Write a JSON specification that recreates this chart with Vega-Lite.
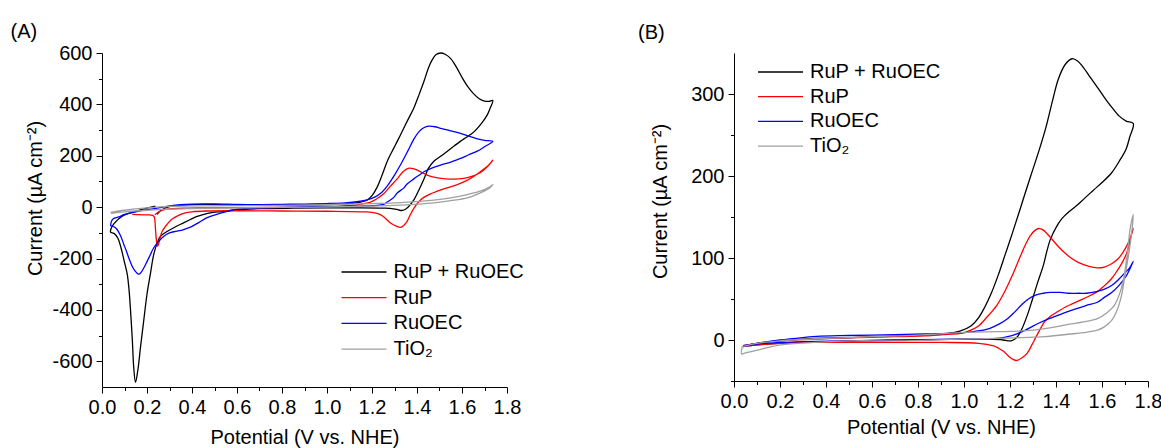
{
  "$schema": "https://vega.github.io/schema/vega-lite/v6.json",
  "background": "white",
  "padding": {"left": 10, "top": 22, "right": 2, "bottom": 2},
  "bounds": "flush",
  "spacing": 227,
  "config": {
    "font": "Liberation Sans",
    "view": {"stroke": null},
    "axis": {
      "labelFont": "Liberation Sans", "labelFontSize": 20, "labelColor": "#000000",
      "titleFont": "Liberation Sans", "titleFontSize": 20, "titleFontWeight": "normal", "titleColor": "#000000",
      "domainColor": "#000000", "tickColor": "#000000", "domainWidth": 1, "tickWidth": 1,
      "grid": false, "labelPadding": 4, "labelFlush": false, "labelOverlap": false
    },
    "legend": {
      "labelFont": "Liberation Sans", "labelFontSize": 20, "labelColor": "#000000",
      "symbolType": "stroke", "symbolSize": 2025, "symbolStrokeWidth": 1.3,
      "labelOffset": 6, "clipHeight": 20, "padding": 0, "labelLimit": 300
    },
    "title": {"font": "Liberation Sans", "fontSize": 20, "fontWeight": "normal", "color": "#000000", "anchor": "start", "frame": "group"}
  },
  "resolve": {"legend": {"color": "independent"}},
  "datasets": {
    "A": [
      {"s":"RuP + RuOEC","v":0.245,"c":-28},{"s":"RuP + RuOEC","v":0.255,"c":-18},{"s":"RuP + RuOEC","v":0.27,"c":-8},{"s":"RuP + RuOEC","v":0.3,"c":2},{"s":"RuP + RuOEC","v":0.34,"c":6},{"s":"RuP + RuOEC","v":0.4,"c":10},{"s":"RuP + RuOEC","v":0.46,"c":11},{"s":"RuP + RuOEC","v":0.55,"c":9},{"s":"RuP + RuOEC","v":0.7,"c":7},{"s":"RuP + RuOEC","v":0.85,"c":8},{"s":"RuP + RuOEC","v":1.0,"c":10},{"s":"RuP + RuOEC","v":1.08,"c":13},{"s":"RuP + RuOEC","v":1.14,"c":18},{"s":"RuP + RuOEC","v":1.179,"c":28},{"s":"RuP + RuOEC","v":1.2,"c":45},{"s":"RuP + RuOEC","v":1.223,"c":78},{"s":"RuP + RuOEC","v":1.245,"c":125},{"s":"RuP + RuOEC","v":1.268,"c":179},{"s":"RuP + RuOEC","v":1.3,"c":235},{"s":"RuP + RuOEC","v":1.327,"c":282},{"s":"RuP + RuOEC","v":1.356,"c":334},{"s":"RuP + RuOEC","v":1.386,"c":386},{"s":"RuP + RuOEC","v":1.41,"c":440},{"s":"RuP + RuOEC","v":1.431,"c":490},{"s":"RuP + RuOEC","v":1.45,"c":540},{"s":"RuP + RuOEC","v":1.468,"c":574},{"s":"RuP + RuOEC","v":1.485,"c":594},{"s":"RuP + RuOEC","v":1.505,"c":600},{"s":"RuP + RuOEC","v":1.525,"c":595},{"s":"RuP + RuOEC","v":1.55,"c":578},{"s":"RuP + RuOEC","v":1.575,"c":545},{"s":"RuP + RuOEC","v":1.6,"c":505},{"s":"RuP + RuOEC","v":1.625,"c":470},{"s":"RuP + RuOEC","v":1.65,"c":443},{"s":"RuP + RuOEC","v":1.675,"c":423},{"s":"RuP + RuOEC","v":1.7,"c":413},{"s":"RuP + RuOEC","v":1.72,"c":412},{"s":"RuP + RuOEC","v":1.737,"c":415},
      {"s":"RuP + RuOEC","v":1.725,"c":385},{"s":"RuP + RuOEC","v":1.713,"c":360},{"s":"RuP + RuOEC","v":1.69,"c":330},{"s":"RuP + RuOEC","v":1.653,"c":293},{"s":"RuP + RuOEC","v":1.62,"c":272},{"s":"RuP + RuOEC","v":1.594,"c":257},{"s":"RuP + RuOEC","v":1.565,"c":238},{"s":"RuP + RuOEC","v":1.535,"c":218},{"s":"RuP + RuOEC","v":1.505,"c":198},{"s":"RuP + RuOEC","v":1.475,"c":179},{"s":"RuP + RuOEC","v":1.45,"c":150},{"s":"RuP + RuOEC","v":1.431,"c":110},{"s":"RuP + RuOEC","v":1.41,"c":70},{"s":"RuP + RuOEC","v":1.386,"c":28},{"s":"RuP + RuOEC","v":1.36,"c":0},{"s":"RuP + RuOEC","v":1.342,"c":-11},{"s":"RuP + RuOEC","v":1.327,"c":-13},{"s":"RuP + RuOEC","v":1.31,"c":-9},{"s":"RuP + RuOEC","v":1.28,"c":-5},{"s":"RuP + RuOEC","v":1.25,"c":-4},{"s":"RuP + RuOEC","v":1.15,"c":-3},{"s":"RuP + RuOEC","v":1.0,"c":-3},{"s":"RuP + RuOEC","v":0.85,"c":-4},{"s":"RuP + RuOEC","v":0.7,"c":-6},{"s":"RuP + RuOEC","v":0.6,"c":-10},{"s":"RuP + RuOEC","v":0.53,"c":-17},{"s":"RuP + RuOEC","v":0.47,"c":-24},{"s":"RuP + RuOEC","v":0.42,"c":-37},{"s":"RuP + RuOEC","v":0.393,"c":-48},{"s":"RuP + RuOEC","v":0.36,"c":-62},{"s":"RuP + RuOEC","v":0.319,"c":-80},{"s":"RuP + RuOEC","v":0.285,"c":-97},{"s":"RuP + RuOEC","v":0.26,"c":-113},{"s":"RuP + RuOEC","v":0.245,"c":-140},{"s":"RuP + RuOEC","v":0.23,"c":-184},{"s":"RuP + RuOEC","v":0.215,"c":-260},{"s":"RuP + RuOEC","v":0.2,"c":-339},{"s":"RuP + RuOEC","v":0.185,"c":-445},{"s":"RuP + RuOEC","v":0.171,"c":-546},{"s":"RuP + RuOEC","v":0.16,"c":-630},{"s":"RuP + RuOEC","v":0.149,"c":-682},{"s":"RuP + RuOEC","v":0.141,"c":-624},{"s":"RuP + RuOEC","v":0.135,"c":-520},{"s":"RuP + RuOEC","v":0.127,"c":-404},{"s":"RuP + RuOEC","v":0.12,"c":-320},{"s":"RuP + RuOEC","v":0.112,"c":-260},{"s":"RuP + RuOEC","v":0.1,"c":-215},{"s":"RuP + RuOEC","v":0.085,"c":-160},{"s":"RuP + RuOEC","v":0.07,"c":-120},{"s":"RuP + RuOEC","v":0.053,"c":-102},{"s":"RuP + RuOEC","v":0.038,"c":-97},
      {"s":"RuP + RuOEC","v":0.042,"c":-80},{"s":"RuP + RuOEC","v":0.05,"c":-68},{"s":"RuP + RuOEC","v":0.06,"c":-58},{"s":"RuP + RuOEC","v":0.075,"c":-45},{"s":"RuP + RuOEC","v":0.09,"c":-35},{"s":"RuP + RuOEC","v":0.12,"c":-24},{"s":"RuP + RuOEC","v":0.149,"c":-16},{"s":"RuP + RuOEC","v":0.19,"c":-6},{"s":"RuP + RuOEC","v":0.238,"c":4},
      {"s":"RuP","v":0.235,"c":-30},{"s":"RuP","v":0.25,"c":-20},{"s":"RuP","v":0.27,"c":-12},{"s":"RuP","v":0.3,"c":-7},{"s":"RuP","v":0.37,"c":-4},{"s":"RuP","v":0.46,"c":-3},{"s":"RuP","v":0.6,"c":-2},{"s":"RuP","v":0.8,"c":-1},{"s":"RuP","v":1.0,"c":1},{"s":"RuP","v":1.1,"c":6},{"s":"RuP","v":1.164,"c":14},{"s":"RuP","v":1.193,"c":20},{"s":"RuP","v":1.22,"c":32},{"s":"RuP","v":1.252,"c":52},{"s":"RuP","v":1.28,"c":80},{"s":"RuP","v":1.312,"c":110},{"s":"RuP","v":1.34,"c":140},{"s":"RuP","v":1.365,"c":152},{"s":"RuP","v":1.39,"c":148},{"s":"RuP","v":1.42,"c":136},{"s":"RuP","v":1.445,"c":125},{"s":"RuP","v":1.48,"c":116},{"s":"RuP","v":1.519,"c":111},{"s":"RuP","v":1.56,"c":109},{"s":"RuP","v":1.608,"c":112},{"s":"RuP","v":1.65,"c":122},{"s":"RuP","v":1.682,"c":135},{"s":"RuP","v":1.71,"c":155},{"s":"RuP","v":1.737,"c":183},
      {"s":"RuP","v":1.72,"c":165},{"s":"RuP","v":1.7,"c":150},{"s":"RuP","v":1.665,"c":127},{"s":"RuP","v":1.62,"c":103},{"s":"RuP","v":1.579,"c":88},{"s":"RuP","v":1.53,"c":74},{"s":"RuP","v":1.49,"c":62},{"s":"RuP","v":1.46,"c":52},{"s":"RuP","v":1.43,"c":38},{"s":"RuP","v":1.405,"c":18},{"s":"RuP","v":1.386,"c":-5},{"s":"RuP","v":1.37,"c":-30},{"s":"RuP","v":1.356,"c":-55},{"s":"RuP","v":1.34,"c":-72},{"s":"RuP","v":1.327,"c":-79},{"s":"RuP","v":1.31,"c":-75},{"s":"RuP","v":1.282,"c":-62},{"s":"RuP","v":1.26,"c":-44},{"s":"RuP","v":1.237,"c":-29},{"s":"RuP","v":1.2,"c":-20},{"s":"RuP","v":1.164,"c":-18},{"s":"RuP","v":1.0,"c":-16},{"s":"RuP","v":0.8,"c":-15},{"s":"RuP","v":0.6,"c":-14},{"s":"RuP","v":0.46,"c":-15},{"s":"RuP","v":0.4,"c":-18},{"s":"RuP","v":0.37,"c":-22},{"s":"RuP","v":0.34,"c":-32},{"s":"RuP","v":0.312,"c":-46},{"s":"RuP","v":0.29,"c":-66},{"s":"RuP","v":0.267,"c":-95},{"s":"RuP","v":0.255,"c":-132},{"s":"RuP","v":0.247,"c":-152},{"s":"RuP","v":0.242,"c":-130},{"s":"RuP","v":0.238,"c":-90},{"s":"RuP","v":0.235,"c":-50},{"s":"RuP","v":0.232,"c":-38},{"s":"RuP","v":0.225,"c":-32},{"s":"RuP","v":0.2,"c":-30},{"s":"RuP","v":0.134,"c":-28},
      {"s":"RuOEC","v":0.038,"c":-74},{"s":"RuOEC","v":0.042,"c":-55},{"s":"RuOEC","v":0.05,"c":-45},{"s":"RuOEC","v":0.075,"c":-38},{"s":"RuOEC","v":0.1,"c":-28},{"s":"RuOEC","v":0.15,"c":-18},{"s":"RuOEC","v":0.2,"c":-10},{"s":"RuOEC","v":0.25,"c":-3},{"s":"RuOEC","v":0.3,"c":5},{"s":"RuOEC","v":0.35,"c":10},{"s":"RuOEC","v":0.4,"c":12},{"s":"RuOEC","v":0.5,"c":13},{"s":"RuOEC","v":0.6,"c":11},{"s":"RuOEC","v":0.7,"c":10},{"s":"RuOEC","v":0.8,"c":11},{"s":"RuOEC","v":0.9,"c":12},{"s":"RuOEC","v":1.0,"c":14},{"s":"RuOEC","v":1.08,"c":17},{"s":"RuOEC","v":1.14,"c":22},{"s":"RuOEC","v":1.178,"c":28},{"s":"RuOEC","v":1.21,"c":38},{"s":"RuOEC","v":1.24,"c":55},{"s":"RuOEC","v":1.27,"c":85},{"s":"RuOEC","v":1.3,"c":125},{"s":"RuOEC","v":1.33,"c":170},{"s":"RuOEC","v":1.36,"c":220},{"s":"RuOEC","v":1.386,"c":265},{"s":"RuOEC","v":1.41,"c":295},{"s":"RuOEC","v":1.43,"c":309},{"s":"RuOEC","v":1.453,"c":315},{"s":"RuOEC","v":1.48,"c":313},{"s":"RuOEC","v":1.505,"c":307},{"s":"RuOEC","v":1.55,"c":297},{"s":"RuOEC","v":1.594,"c":287},{"s":"RuOEC","v":1.63,"c":276},{"s":"RuOEC","v":1.668,"c":266},{"s":"RuOEC","v":1.7,"c":260},{"s":"RuOEC","v":1.737,"c":256},
      {"s":"RuOEC","v":1.7,"c":235},{"s":"RuOEC","v":1.668,"c":218},{"s":"RuOEC","v":1.63,"c":204},{"s":"RuOEC","v":1.594,"c":190},{"s":"RuOEC","v":1.55,"c":175},{"s":"RuOEC","v":1.505,"c":164},{"s":"RuOEC","v":1.46,"c":150},{"s":"RuOEC","v":1.431,"c":138},{"s":"RuOEC","v":1.41,"c":125},{"s":"RuOEC","v":1.386,"c":110},{"s":"RuOEC","v":1.356,"c":90},{"s":"RuOEC","v":1.342,"c":75},{"s":"RuOEC","v":1.312,"c":55},{"s":"RuOEC","v":1.297,"c":38},{"s":"RuOEC","v":1.268,"c":20},{"s":"RuOEC","v":1.253,"c":12},{"s":"RuOEC","v":1.223,"c":7},{"s":"RuOEC","v":1.179,"c":5},{"s":"RuOEC","v":1.1,"c":4},{"s":"RuOEC","v":1.0,"c":3},{"s":"RuOEC","v":0.9,"c":1},{"s":"RuOEC","v":0.8,"c":-1},{"s":"RuOEC","v":0.7,"c":-3},{"s":"RuOEC","v":0.6,"c":-8},{"s":"RuOEC","v":0.571,"c":-14},{"s":"RuOEC","v":0.52,"c":-25},{"s":"RuOEC","v":0.467,"c":-41},{"s":"RuOEC","v":0.43,"c":-60},{"s":"RuOEC","v":0.393,"c":-78},{"s":"RuOEC","v":0.36,"c":-88},{"s":"RuOEC","v":0.334,"c":-93},{"s":"RuOEC","v":0.3,"c":-100},{"s":"RuOEC","v":0.275,"c":-113},{"s":"RuOEC","v":0.25,"c":-135},{"s":"RuOEC","v":0.23,"c":-158},{"s":"RuOEC","v":0.215,"c":-185},{"s":"RuOEC","v":0.201,"c":-210},{"s":"RuOEC","v":0.185,"c":-238},{"s":"RuOEC","v":0.172,"c":-256},{"s":"RuOEC","v":0.164,"c":-261},{"s":"RuOEC","v":0.155,"c":-256},{"s":"RuOEC","v":0.145,"c":-246},{"s":"RuOEC","v":0.134,"c":-230},{"s":"RuOEC","v":0.12,"c":-200},{"s":"RuOEC","v":0.108,"c":-170},{"s":"RuOEC","v":0.097,"c":-145},{"s":"RuOEC","v":0.082,"c":-110},{"s":"RuOEC","v":0.067,"c":-87},{"s":"RuOEC","v":0.055,"c":-77},{"s":"RuOEC","v":0.045,"c":-74},{"s":"RuOEC","v":0.039,"c":-74},
      {"s":"TiO₂","v":0.038,"c":-20},{"s":"TiO₂","v":0.1,"c":-12},{"s":"TiO₂","v":0.2,"c":-3},{"s":"TiO₂","v":0.3,"c":3},{"s":"TiO₂","v":0.5,"c":5},{"s":"TiO₂","v":0.8,"c":7},{"s":"TiO₂","v":1.0,"c":10},{"s":"TiO₂","v":1.2,"c":14},{"s":"TiO₂","v":1.327,"c":18},{"s":"TiO₂","v":1.475,"c":27},{"s":"TiO₂","v":1.55,"c":36},{"s":"TiO₂","v":1.624,"c":49},{"s":"TiO₂","v":1.68,"c":62},{"s":"TiO₂","v":1.72,"c":77},{"s":"TiO₂","v":1.737,"c":88},{"s":"TiO₂","v":1.72,"c":73},{"s":"TiO₂","v":1.68,"c":55},{"s":"TiO₂","v":1.624,"c":36},{"s":"TiO₂","v":1.55,"c":25},{"s":"TiO₂","v":1.475,"c":17},{"s":"TiO₂","v":1.327,"c":8},{"s":"TiO₂","v":1.2,"c":4},{"s":"TiO₂","v":1.0,"c":1},{"s":"TiO₂","v":0.8,"c":-1},{"s":"TiO₂","v":0.5,"c":-4},{"s":"TiO₂","v":0.3,"c":-8},{"s":"TiO₂","v":0.2,"c":-12},{"s":"TiO₂","v":0.1,"c":-18},{"s":"TiO₂","v":0.04,"c":-24}
    ],
    "B": [
      {"s":"RuP + RuOEC","v":0.04,"c":-7},{"s":"RuP + RuOEC","v":0.1,"c":-4},{"s":"RuP + RuOEC","v":0.2,"c":-1},{"s":"RuP + RuOEC","v":0.35,"c":2},{"s":"RuP + RuOEC","v":0.516,"c":3},{"s":"RuP + RuOEC","v":0.7,"c":5},{"s":"RuP + RuOEC","v":0.829,"c":6},{"s":"RuP + RuOEC","v":0.9,"c":7},{"s":"RuP + RuOEC","v":0.95,"c":9},{"s":"RuP + RuOEC","v":0.985,"c":11},{"s":"RuP + RuOEC","v":1.03,"c":17},{"s":"RuP + RuOEC","v":1.063,"c":27},{"s":"RuP + RuOEC","v":1.09,"c":40},{"s":"RuP + RuOEC","v":1.12,"c":58},{"s":"RuP + RuOEC","v":1.15,"c":80},{"s":"RuP + RuOEC","v":1.18,"c":105},{"s":"RuP + RuOEC","v":1.21,"c":130},{"s":"RuP + RuOEC","v":1.25,"c":165},{"s":"RuP + RuOEC","v":1.29,"c":200},{"s":"RuP + RuOEC","v":1.325,"c":230},{"s":"RuP + RuOEC","v":1.355,"c":258},{"s":"RuP + RuOEC","v":1.385,"c":292},{"s":"RuP + RuOEC","v":1.41,"c":318},{"s":"RuP + RuOEC","v":1.44,"c":336},{"s":"RuP + RuOEC","v":1.47,"c":343},{"s":"RuP + RuOEC","v":1.495,"c":340},{"s":"RuP + RuOEC","v":1.517,"c":333},{"s":"RuP + RuOEC","v":1.55,"c":320},{"s":"RuP + RuOEC","v":1.58,"c":308},{"s":"RuP + RuOEC","v":1.61,"c":296},{"s":"RuP + RuOEC","v":1.642,"c":284},{"s":"RuP + RuOEC","v":1.675,"c":273},{"s":"RuP + RuOEC","v":1.705,"c":267},{"s":"RuP + RuOEC","v":1.736,"c":264},
      {"s":"RuP + RuOEC","v":1.72,"c":247},{"s":"RuP + RuOEC","v":1.705,"c":233},{"s":"RuP + RuOEC","v":1.675,"c":218},{"s":"RuP + RuOEC","v":1.642,"c":204},{"s":"RuP + RuOEC","v":1.6,"c":192},{"s":"RuP + RuOEC","v":1.564,"c":183},{"s":"RuP + RuOEC","v":1.525,"c":173},{"s":"RuP + RuOEC","v":1.486,"c":163},{"s":"RuP + RuOEC","v":1.455,"c":156},{"s":"RuP + RuOEC","v":1.423,"c":147},{"s":"RuP + RuOEC","v":1.4,"c":137},{"s":"RuP + RuOEC","v":1.376,"c":123},{"s":"RuP + RuOEC","v":1.36,"c":108},{"s":"RuP + RuOEC","v":1.345,"c":91},{"s":"RuP + RuOEC","v":1.32,"c":70},{"s":"RuP + RuOEC","v":1.298,"c":50},{"s":"RuP + RuOEC","v":1.275,"c":30},{"s":"RuP + RuOEC","v":1.251,"c":13},{"s":"RuP + RuOEC","v":1.235,"c":5},{"s":"RuP + RuOEC","v":1.22,"c":1},{"s":"RuP + RuOEC","v":1.205,"c":-1},{"s":"RuP + RuOEC","v":1.19,"c":-1},{"s":"RuP + RuOEC","v":1.17,"c":0},{"s":"RuP + RuOEC","v":1.1,"c":1},{"s":"RuP + RuOEC","v":1.0,"c":1},{"s":"RuP + RuOEC","v":0.8,"c":0},{"s":"RuP + RuOEC","v":0.6,"c":-1},{"s":"RuP + RuOEC","v":0.4,"c":-2},{"s":"RuP + RuOEC","v":0.2,"c":-4},{"s":"RuP + RuOEC","v":0.1,"c":-6},{"s":"RuP + RuOEC","v":0.04,"c":-8},
      {"s":"RuP","v":0.04,"c":-7},{"s":"RuP","v":0.1,"c":-4},{"s":"RuP","v":0.2,"c":-1},{"s":"RuP","v":0.35,"c":1},{"s":"RuP","v":0.516,"c":3},{"s":"RuP","v":0.7,"c":4},{"s":"RuP","v":0.829,"c":5},{"s":"RuP","v":0.93,"c":7},{"s":"RuP","v":0.985,"c":8},{"s":"RuP","v":1.03,"c":12},{"s":"RuP","v":1.063,"c":17},{"s":"RuP","v":1.1,"c":28},{"s":"RuP","v":1.142,"c":42},{"s":"RuP","v":1.175,"c":58},{"s":"RuP","v":1.204,"c":75},{"s":"RuP","v":1.23,"c":92},{"s":"RuP","v":1.251,"c":106},{"s":"RuP","v":1.27,"c":118},{"s":"RuP","v":1.29,"c":128},{"s":"RuP","v":1.31,"c":134},{"s":"RuP","v":1.325,"c":136},{"s":"RuP","v":1.345,"c":134},{"s":"RuP","v":1.376,"c":125},{"s":"RuP","v":1.41,"c":114},{"s":"RuP","v":1.439,"c":106},{"s":"RuP","v":1.47,"c":99},{"s":"RuP","v":1.501,"c":94},{"s":"RuP","v":1.54,"c":90},{"s":"RuP","v":1.58,"c":88},{"s":"RuP","v":1.61,"c":89},{"s":"RuP","v":1.642,"c":93},{"s":"RuP","v":1.67,"c":99},{"s":"RuP","v":1.689,"c":106},{"s":"RuP","v":1.71,"c":116},{"s":"RuP","v":1.725,"c":126},{"s":"RuP","v":1.736,"c":136},
      {"s":"RuP","v":1.725,"c":125},{"s":"RuP","v":1.71,"c":108},{"s":"RuP","v":1.689,"c":95},{"s":"RuP","v":1.665,"c":84},{"s":"RuP","v":1.642,"c":75},{"s":"RuP","v":1.61,"c":66},{"s":"RuP","v":1.58,"c":59},{"s":"RuP","v":1.54,"c":53},{"s":"RuP","v":1.501,"c":48},{"s":"RuP","v":1.47,"c":44},{"s":"RuP","v":1.439,"c":40},{"s":"RuP","v":1.41,"c":35},{"s":"RuP","v":1.376,"c":29},{"s":"RuP","v":1.35,"c":22},{"s":"RuP","v":1.329,"c":12},{"s":"RuP","v":1.31,"c":2},{"s":"RuP","v":1.295,"c":-6},{"s":"RuP","v":1.275,"c":-16},{"s":"RuP","v":1.251,"c":-22},{"s":"RuP","v":1.23,"c":-25},{"s":"RuP","v":1.215,"c":-24},{"s":"RuP","v":1.195,"c":-20},{"s":"RuP","v":1.173,"c":-14},{"s":"RuP","v":1.15,"c":-10},{"s":"RuP","v":1.126,"c":-7},{"s":"RuP","v":1.063,"c":-4},{"s":"RuP","v":0.9,"c":-3},{"s":"RuP","v":0.7,"c":-3},{"s":"RuP","v":0.5,"c":-3},{"s":"RuP","v":0.3,"c":-3},{"s":"RuP","v":0.2,"c":-4},{"s":"RuP","v":0.1,"c":-6},{"s":"RuP","v":0.04,"c":-8},
      {"s":"RuOEC","v":0.04,"c":-7},{"s":"RuOEC","v":0.1,"c":-4},{"s":"RuOEC","v":0.2,"c":0},{"s":"RuOEC","v":0.3,"c":3},{"s":"RuOEC","v":0.36,"c":4.5},{"s":"RuOEC","v":0.5,"c":5.5},{"s":"RuOEC","v":0.7,"c":6.5},{"s":"RuOEC","v":0.829,"c":7.3},{"s":"RuOEC","v":0.93,"c":8},{"s":"RuOEC","v":1.0,"c":9},{"s":"RuOEC","v":1.06,"c":11},{"s":"RuOEC","v":1.11,"c":14},{"s":"RuOEC","v":1.15,"c":19},{"s":"RuOEC","v":1.189,"c":26},{"s":"RuOEC","v":1.22,"c":34},{"s":"RuOEC","v":1.251,"c":43},{"s":"RuOEC","v":1.28,"c":50},{"s":"RuOEC","v":1.314,"c":55},{"s":"RuOEC","v":1.345,"c":57},{"s":"RuOEC","v":1.376,"c":58},{"s":"RuOEC","v":1.42,"c":58},{"s":"RuOEC","v":1.454,"c":57},{"s":"RuOEC","v":1.5,"c":57},{"s":"RuOEC","v":1.533,"c":57},{"s":"RuOEC","v":1.575,"c":59},{"s":"RuOEC","v":1.611,"c":62},{"s":"RuOEC","v":1.645,"c":67},{"s":"RuOEC","v":1.673,"c":74},{"s":"RuOEC","v":1.7,"c":82},{"s":"RuOEC","v":1.72,"c":88},{"s":"RuOEC","v":1.736,"c":96},
      {"s":"RuOEC","v":1.72,"c":86},{"s":"RuOEC","v":1.705,"c":78},{"s":"RuOEC","v":1.675,"c":67},{"s":"RuOEC","v":1.642,"c":58},{"s":"RuOEC","v":1.61,"c":52},{"s":"RuOEC","v":1.58,"c":46},{"s":"RuOEC","v":1.53,"c":42},{"s":"RuOEC","v":1.486,"c":38},{"s":"RuOEC","v":1.445,"c":34},{"s":"RuOEC","v":1.408,"c":30},{"s":"RuOEC","v":1.37,"c":26},{"s":"RuOEC","v":1.329,"c":21},{"s":"RuOEC","v":1.3,"c":17},{"s":"RuOEC","v":1.267,"c":12},{"s":"RuOEC","v":1.235,"c":8},{"s":"RuOEC","v":1.204,"c":5},{"s":"RuOEC","v":1.17,"c":3},{"s":"RuOEC","v":1.142,"c":2},{"s":"RuOEC","v":1.0,"c":1},{"s":"RuOEC","v":0.8,"c":0.5},{"s":"RuOEC","v":0.672,"c":0},{"s":"RuOEC","v":0.5,"c":-1},{"s":"RuOEC","v":0.3,"c":-2},{"s":"RuOEC","v":0.203,"c":-3},{"s":"RuOEC","v":0.1,"c":-5},{"s":"RuOEC","v":0.04,"c":-8},
      {"s":"TiO₂","v":0.035,"c":-8},{"s":"TiO₂","v":0.1,"c":-4},{"s":"TiO₂","v":0.2,"c":-1},{"s":"TiO₂","v":0.4,"c":2},{"s":"TiO₂","v":0.6,"c":4},{"s":"TiO₂","v":0.8,"c":6},{"s":"TiO₂","v":0.985,"c":9},{"s":"TiO₂","v":1.1,"c":10},{"s":"TiO₂","v":1.2,"c":10.5},{"s":"TiO₂","v":1.3,"c":12},{"s":"TiO₂","v":1.38,"c":15},{"s":"TiO₂","v":1.454,"c":19},{"s":"TiO₂","v":1.52,"c":22},{"s":"TiO₂","v":1.58,"c":26},{"s":"TiO₂","v":1.62,"c":33},{"s":"TiO₂","v":1.653,"c":42},{"s":"TiO₂","v":1.683,"c":62},{"s":"TiO₂","v":1.7,"c":85},{"s":"TiO₂","v":1.712,"c":110},{"s":"TiO₂","v":1.722,"c":135},{"s":"TiO₂","v":1.736,"c":153},
      {"s":"TiO₂","v":1.728,"c":128},{"s":"TiO₂","v":1.72,"c":112},{"s":"TiO₂","v":1.712,"c":98},{"s":"TiO₂","v":1.698,"c":75},{"s":"TiO₂","v":1.683,"c":52},{"s":"TiO₂","v":1.665,"c":36},{"s":"TiO₂","v":1.642,"c":24},{"s":"TiO₂","v":1.61,"c":16},{"s":"TiO₂","v":1.58,"c":12},{"s":"TiO₂","v":1.52,"c":9},{"s":"TiO₂","v":1.454,"c":7},{"s":"TiO₂","v":1.35,"c":4},{"s":"TiO₂","v":1.25,"c":3},{"s":"TiO₂","v":1.15,"c":2},{"s":"TiO₂","v":0.985,"c":1},{"s":"TiO₂","v":0.7,"c":-1},{"s":"TiO₂","v":0.516,"c":-1},{"s":"TiO₂","v":0.35,"c":-3},{"s":"TiO₂","v":0.203,"c":-6},{"s":"TiO₂","v":0.12,"c":-11},{"s":"TiO₂","v":0.047,"c":-16},{"s":"TiO₂","v":0.033,"c":-17},{"s":"TiO₂","v":0.036,"c":-8}
    ]
  },
  "hconcat": [
    {
      "width": 405,
      "height": 334,
      "title": {"text": "(A)", "dx": -91.5, "offset": 1},
      "data": {"name": "A"},
      "mark": {"type": "line", "interpolate": "catmull-rom", "strokeWidth": 1.3},
      "encoding": {
        "x": {
          "field": "v", "type": "quantitative",
          "scale": {"domain": [0, 1.8], "nice": false, "zero": false},
          "axis": {
            "title": "Potential (V vs. NHE)",
            "values": [0, 0.1, 0.2, 0.3, 0.4, 0.5, 0.6, 0.7, 0.8, 0.9, 1.0, 1.1, 1.2, 1.3, 1.4, 1.5, 1.6, 1.7, 1.8],
            "labelExpr": "round(datum.value*10) % 2 === 1 ? '' : format(datum.value, '.1f')",
            "tickSize": {"condition": {"test": "round(datum.value*10) % 2 === 1", "value": 3.5}, "value": 6},
            "titlePadding": 10
          }
        },
        "y": {
          "field": "c", "type": "quantitative",
          "scale": {"domain": [-700, 600], "nice": false, "zero": false},
          "axis": {
            "title": "Current (µA cm⁻²)",
            "values": [-600, -500, -400, -300, -200, -100, 0, 100, 200, 300, 400, 500, 600],
            "labelExpr": "datum.value % 200 !== 0 ? '' : replace(format(datum.value, 'd'), '−', '-')",
            "tickSize": {"condition": {"test": "datum.value % 200 !== 0", "value": 3.5}, "value": 6},
            "titleX": -66.5, "titleY": 145, "titleAlign": "center", "titleBaseline": "middle", "titleAngle": -90
          }
        },
        "color": {
          "field": "s", "type": "nominal",
          "scale": {"domain": ["RuP + RuOEC", "RuP", "RuOEC", "TiO₂"], "range": ["#000000", "#ff0000", "#0000ff", "#a0a0a0"]},
          "legend": {"orient": "none", "legendX": 238.5, "legendY": 209, "title": null, "rowPadding": 5.7}
        },
        "order": {"value": null}
      }
    },
    {
      "width": 414,
      "height": 328,
      "title": {"text": "(B)", "dx": -96, "offset": 10},
      "data": {"name": "B"},
      "mark": {"type": "line", "interpolate": "catmull-rom", "strokeWidth": 1.3},
      "encoding": {
        "x": {
          "field": "v", "type": "quantitative",
          "scale": {"domain": [0, 1.8], "nice": false, "zero": false},
          "axis": {
            "title": "Potential (V vs. NHE)",
            "values": [0, 0.1, 0.2, 0.3, 0.4, 0.5, 0.6, 0.7, 0.8, 0.9, 1.0, 1.1, 1.2, 1.3, 1.4, 1.5, 1.6, 1.7, 1.8],
            "labelExpr": "round(datum.value*10) % 2 === 1 ? '' : format(datum.value, '.1f')",
            "tickSize": {"condition": {"test": "round(datum.value*10) % 2 === 1", "value": 3.5}, "value": 6},
            "titlePadding": 6.5
          }
        },
        "y": {
          "field": "c", "type": "quantitative",
          "scale": {"domain": [-50, 350], "nice": false, "zero": false},
          "axis": {
            "title": "Current (µA cm⁻²)",
            "values": [-50, 0, 50, 100, 150, 200, 250, 300],
            "labelExpr": "datum.value % 100 !== 0 ? '' : replace(format(datum.value, 'd'), '−', '-')",
            "tickSize": {"condition": {"test": "datum.value % 100 !== 0", "value": 3.5}, "value": 6},
            "titleX": -74, "titleY": 148, "titleAlign": "center", "titleBaseline": "middle", "titleAngle": -90
          }
        },
        "color": {
          "field": "s", "type": "nominal",
          "scale": {"domain": ["RuP + RuOEC", "RuP", "RuOEC", "TiO₂"], "range": ["#000000", "#ff0000", "#0000ff", "#a0a0a0"]},
          "legend": {"orient": "none", "legendX": 23, "legendY": 9, "title": null, "rowPadding": 4.7}
        },
        "order": {"value": null}
      }
    }
  ]
}
